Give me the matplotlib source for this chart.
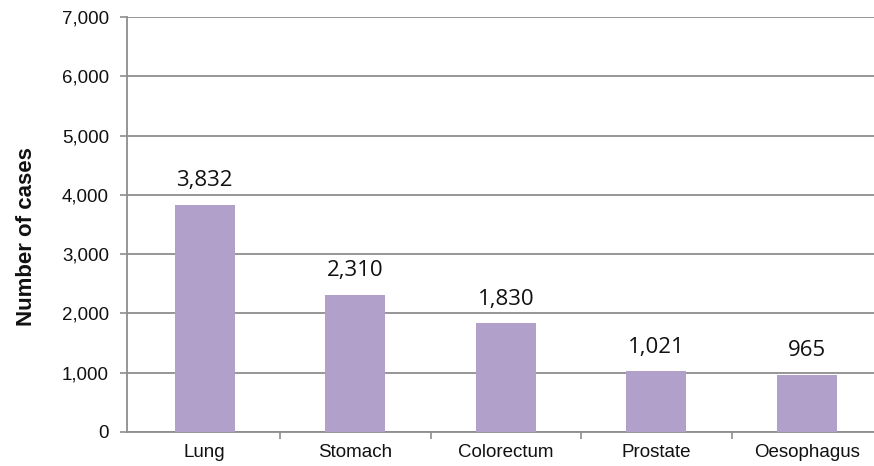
import matplotlib
matplotlib.use("Agg")
import matplotlib.pyplot as plt
from matplotlib.ticker import FuncFormatter

categories = ["Lung", "Stomach", "Colorectum", "Prostate", "Oesophagus"]
cases = [3832, 2310, 1830, 1021, 965]
y_ticks = [0, 1000, 2000, 3000, 4000, 5000, 6000, 7000]

bar_color = "#b0a0ca"
grid_color = "#8e8e8e"

fig = plt.figure(figsize=(8.74, 4.66), dpi=100)
ax = fig.add_axes([0.1453, 0.073, 0.8547, 0.8905])

x = list(range(len(categories)))
ax.bar(x, cases, width=0.4, color=bar_color, zorder=3)

for xi, v in zip(x, cases):
    ax.annotate(f"{v:,}", (xi, v), xytext=(0, 10), textcoords="offset points",
                ha="center", va="bottom", fontsize=16, family="Open Sans",
                color="#111111")

ax.set_ylim(0, 7000)
ax.set_xlim(-0.517, 4.446)
ax.set_yticks(y_ticks)
ax.yaxis.set_major_formatter(FuncFormatter(lambda v, p: f"{int(v):,}"))
ax.yaxis.grid(True, color=grid_color, linewidth=1.3, zorder=0)
ax.set_axisbelow(True)

ax.set_xticks(x)
ax.set_xticklabels(categories, family="Liberation Sans", fontsize=13.5, color="#111111")
ax.set_xticks([i + 0.5 for i in range(len(categories) - 1)], minor=True)
ax.tick_params(axis="x", which="major", length=0, pad=9)
ax.tick_params(axis="x", which="minor", length=5, width=1.2, color=grid_color)
ax.tick_params(axis="y", length=5, width=1.2, color=grid_color, pad=8)
for lbl in ax.get_yticklabels():
    lbl.set_family("Liberation Sans")
    lbl.set_fontsize(13.5)
    lbl.set_color("#111111")

for side in ("top", "right"):
    ax.spines[side].set_visible(False)
for side in ("left", "bottom"):
    ax.spines[side].set_color(grid_color)
    ax.spines[side].set_linewidth(1.3)

ax.set_ylabel("Number of cases", family="Liberation Sans", fontsize=16,
              fontweight="bold", color="#111111")
ax.yaxis.set_label_coords(-0.120, 0.472)

fig.savefig("out.png", dpi=100)
